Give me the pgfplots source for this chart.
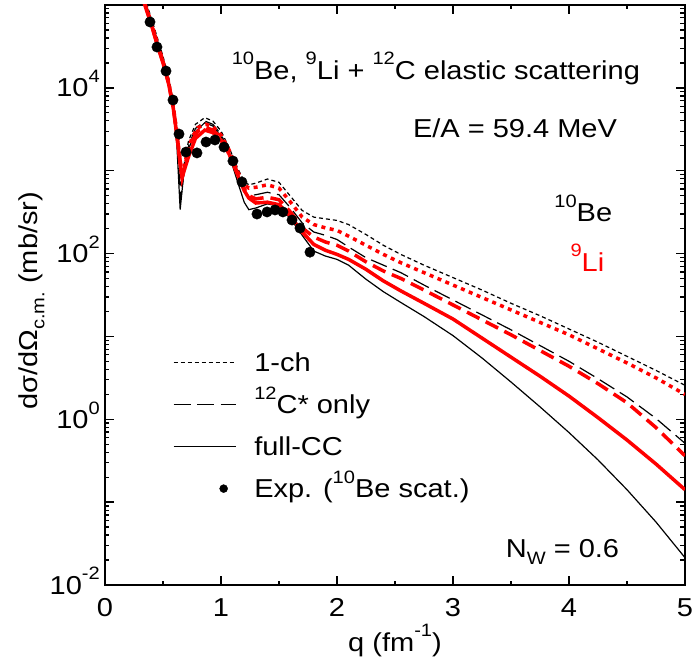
\documentclass[border=0pt]{standalone}
\usepackage{fontspec}
\setmainfont{Liberation Sans}[FakeStretch=1.12]
\usepackage{pgfplots}
\pgfplotsset{compat=1.18}
\pgfplotsset{exp legend/.style={legend image code/.code={\draw[##1, mark size=4bp] plot coordinates {(50bp,2bp)};}}}
\newcommand\fs{\fontsize{26}{31}\selectfont}
\newcommand\sups[1]{\raisebox{0.55em}{\fontsize{18}{18}\selectfont #1}}
\newcommand\subs[1]{\raisebox{-0.28em}{\fontsize{18}{18}\selectfont #1}}
\begin{document}
\fs
\begin{tikzpicture}
\useasboundingbox (-105bp,-81bp) rectangle (587bp,585bp);
\begin{axis}[
  scale only axis, width=580bp, height=580bp,
  at={(0,0)}, anchor=south west,
  xmin=0, xmax=5, ymode=log, ymin=1e-2, ymax=1e5,
  xtick={0,1,2,3,4,5}, xticklabels={0,1,2,3,4,5},
  minor xtick={0.5,1.5,2.5,3.5,4.5},
  ytick={1e-2,1e-1,1,10,100,1e3,1e4,1e5},
  yticklabels={10\sups{-2},,10\sups{0},,10\sups{2},,10\sups{4},},
  minor ytick={0.02,0.03,0.04,0.05,0.06,0.07,0.08,0.09,0.2,0.3,0.4,0.5,0.6,0.7,0.8,0.9,2,3,4,5,6,7,8,9,20,30,40,50,60,70,80,90,200,300,400,500,600,700,800,900,2000,3000,4000,5000,6000,7000,8000,9000,20000,30000,40000,50000,60000,70000,80000,90000},
  tick align=inside, major tick length=9bp, minor tick length=4.5bp,
  every tick/.style={black, line width=1.3bp},
  axis line style={line width=1.6bp},
  tick label style={font=\fs, inner sep=0pt},
  xticklabel style={anchor=north, yshift=-13bp},
  yticklabel style={anchor=base east, xshift=-5bp, yshift=-9bp},
  xlabel={q (fm\sups{-1})},
  ylabel={dσ/dΩ\subs{c.m.} (mb/sr)},
  label style={font=\fs},
  xlabel style={at={(0.5,-0.1140)}, anchor=base},
  ylabel style={at={(-0.117,0.49)}, anchor=base},
  legend cell align=left,
  legend style={draw=none, fill=none, font=\fs, at={(0.117,0.401)}, anchor=north west,
    row sep=18bp, inner sep=0pt,
    nodes={inner sep=0pt, text height=19bp, text depth=5bp},
    /tikz/every odd column/.append style={column sep=18bp}},
  legend image code/.code={\draw[#1] (0bp,2bp) -- (62bp,2bp);},
]
% 1-ch, 10Be
\addplot[black, line width=1.2bp, dash pattern=on 4bp off 3bp] table {
0.30 1.820e5
0.35 1.122e5
0.40 6.918e4
0.45 4.074e4
0.50 2.399e4
0.55 1.318e4
0.59 6607
0.62 3162
0.655 631
0.69 1413
0.72 2291
0.78 3631
0.86 4365
0.93 3981
1.00 3020
1.07 1905
1.14 1096
1.20 741.3
1.24 676.1
1.30 707.9
1.40 794.3
1.50 724.4
1.60 489.8
1.70 331.1
1.80 275.4
1.90 263
2.00 251.2
2.10 223.9
2.25 169.8
2.40 125.9
2.55 97.72
2.75 72.44
3.00 51.29
3.25 36.31
3.50 25.12
3.75 17.78
4.00 12.30
4.25 8.511
4.50 5.754
4.75 3.890
5.00 2.570
};
\addlegendentry{1-ch}
% 12C* only, 10Be
\addplot[black, line width=1.2bp, dash pattern=on 17bp off 6.5bp] table {
0.30 1.738e5
0.35 1.072e5
0.40 6.457e4
0.45 3.802e4
0.50 2.239e4
0.55 1.230e4
0.59 5888
0.62 2630
0.652 446.7
0.69 1202
0.72 1995
0.78 3236
0.86 3981
0.93 3631
1.00 2754
1.07 1698
1.14 891.3
1.20 562.3
1.24 501.2
1.30 512.9
1.40 549.5
1.50 512.9
1.60 354.8
1.70 234.4
1.80 182
1.90 166
2.00 147.9
2.10 120.2
2.25 89.13
2.40 72.44
2.55 58.88
2.75 41.69
3.00 27.54
3.25 18.20
3.50 12.02
3.75 7.762
4.00 5.012
4.25 3.090
4.50 1.862
4.75 1.023
5.00 0.5129
};
\addlegendentry{\sups{12}C* only}
% full-CC, 10Be
\addplot[black, line width=1.2bp] table {
0.30 1.660e5
0.35 1.023e5
0.40 6.166e4
0.45 3.631e4
0.50 2.138e4
0.55 1.148e4
0.59 5248
0.62 1995
0.648 338.8
0.68 955
0.72 1820
0.78 2951
0.86 3802
0.93 3467
1.00 2570
1.07 1549
1.14 758.6
1.20 416.9
1.24 338.8
1.30 354.8
1.40 398.1
1.50 371.5
1.60 263
1.70 166
1.80 107.2
1.90 93.33
2.00 85.11
2.10 72.44
2.25 48.98
2.40 34.67
2.55 25.70
2.75 17.38
3.00 10.23
3.25 5.495
3.50 2.818
3.75 1.413
4.00 0.6918
4.25 0.3236
4.50 0.1413
4.75 0.05754
5.00 0.02138
};
\addlegendentry{full-CC}
% 1-ch, 9Li
\addplot[red, line width=3.5bp, dash pattern=on 4bp off 4.5bp, forget plot] table {
0.30 1.585e5
0.35 9.772e4
0.40 6.026e4
0.45 3.548e4
0.50 2.089e4
0.55 1.148e4
0.59 5754
0.62 2884
0.665 831.8
0.70 1445
0.75 2512
0.80 3311
0.87 3631
0.93 3388
1.00 2692
1.07 1778
1.14 1000
1.20 676.1
1.24 616.6
1.30 631
1.40 676.1
1.50 616.6
1.60 416.9
1.70 275.4
1.80 223.9
1.90 204.2
2.00 190.5
2.10 162.2
2.25 125.9
2.40 97.72
2.55 77.62
2.75 58.88
3.00 41.69
3.25 29.51
3.50 20.89
3.75 14.79
4.00 10.47
4.25 7.079
4.50 4.786
4.75 3.162
5.00 1.995
};
% 12C* only, 9Li
\addplot[red, line width=3.5bp, dash pattern=on 14bp off 7bp, forget plot] table {
0.30 1.549e5
0.35 9.550e4
0.40 5.888e4
0.45 3.388e4
0.50 2.042e4
0.55 1.122e4
0.59 5623
0.62 2754
0.665 831.8
0.70 1349
0.75 2291
0.80 3020
0.87 3311
0.93 3090
1.00 2512
1.07 1660
1.14 955
1.20 602.6
1.24 501.2
1.30 457.1
1.40 478.6
1.50 446.7
1.60 316.2
1.70 204.2
1.80 158.5
1.90 138
2.00 125.9
2.10 107.2
2.25 79.43
2.40 61.66
2.55 50.12
2.75 36.31
3.00 23.99
3.25 15.85
3.50 10.47
3.75 6.761
4.00 4.365
4.25 2.692
4.50 1.585
4.75 0.7943
5.00 0.3631
};
% full-CC, 9Li
\addplot[red, line width=3.5bp, forget plot] table {
0.30 1.514e5
0.35 9.333e4
0.40 5.754e4
0.45 3.311e4
0.50 1.995e4
0.55 1.096e4
0.59 5495
0.62 2630
0.65 1148
0.665 831.8
0.68 977.2
0.72 1479
0.78 2455
0.86 3090
0.93 2884
1.00 2344
1.07 1585
1.14 912
1.20 575.4
1.24 467.7
1.30 407.4
1.40 416.9
1.50 389
1.60 281.8
1.70 182
1.80 128.8
1.90 109.6
2.00 97.72
2.10 85.11
2.25 64.57
2.40 46.77
2.55 35.48
2.75 25.12
3.00 16.22
3.25 9.55
3.50 5.623
3.75 3.311
4.00 1.905
4.25 1.047
4.50 0.5623
4.75 0.2884
5.00 0.1413
};
% experiment, 10Be
\addplot[black, only marks, mark=*, mark size=5.2bp, exp legend] table {
0.388 62400
0.448 31100
0.526 15960
0.586 7130
0.638 2770
0.698 1680
0.793 1640
0.871 2220
0.948 2350
1.026 1930
1.103 1310
1.181 731
1.310 300
1.397 318
1.466 336
1.534 318
1.612 254
1.681 203
1.767 104
};
\addlegendentry{Exp. (\sups{10}Be scat.)}
\node[anchor=base west] at (rel axis cs:0.2034,0.872) {\sups{10}Be, \sups{9}Li + \sups{12}C elastic scattering};
\node[anchor=base east] at (rel axis cs:0.898,0.771) {E/A = 59.4 MeV};
\node[anchor=base east] at (rel axis cs:0.8897,0.626) {\sups{10}Be};
\node[anchor=base east, text=red] at (rel axis cs:0.876,0.541) {\sups{9}Li};
\node[anchor=base east] at (rel axis cs:0.9017,0.048) {N\subs{W} = 0.6};
\end{axis}
\end{tikzpicture}
\end{document}
